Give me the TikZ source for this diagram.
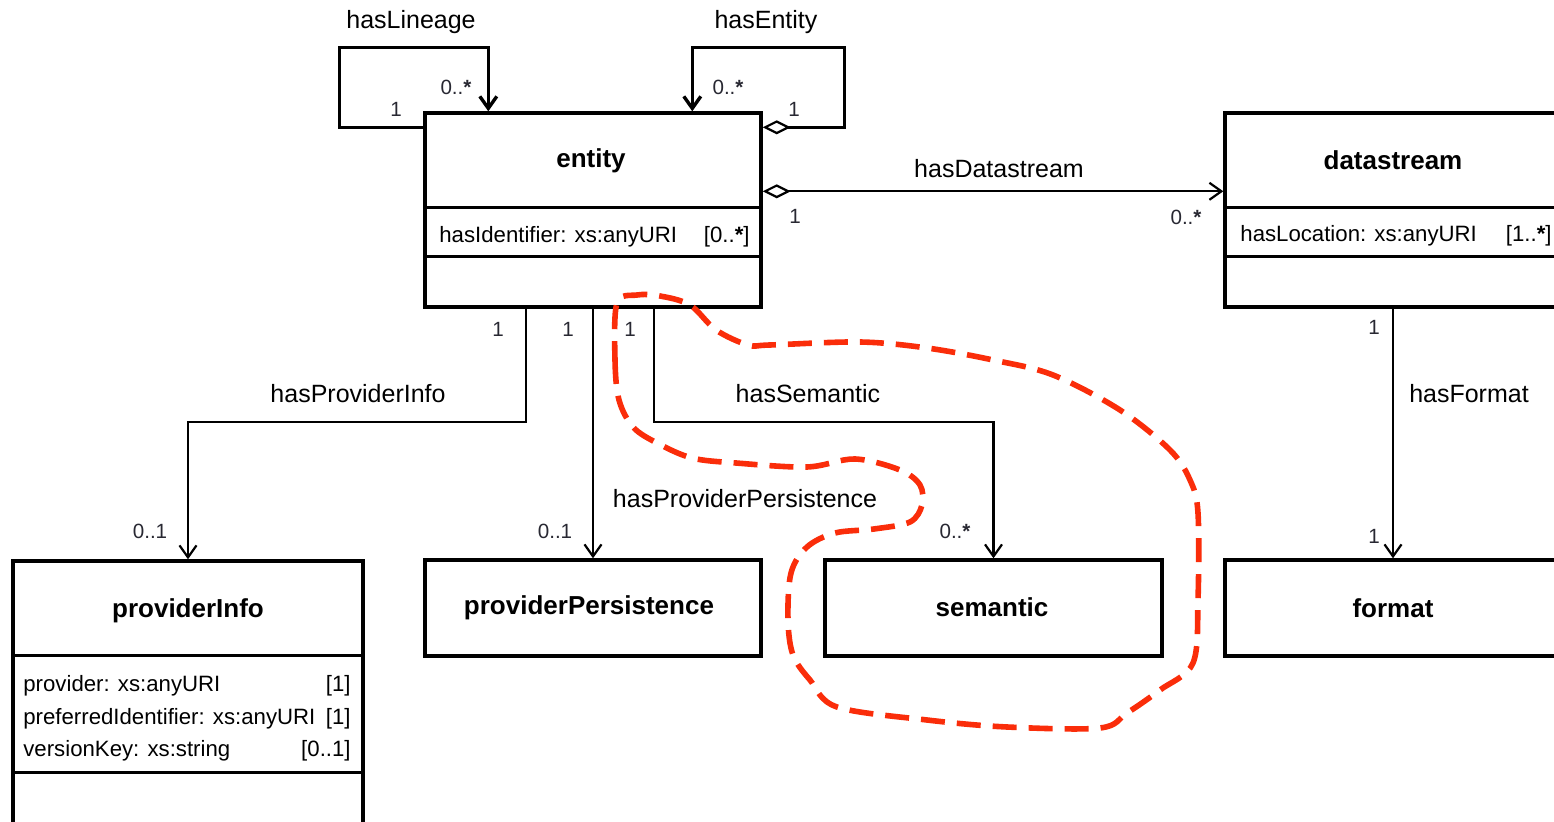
\documentclass[tikz,border=0pt]{standalone}
\usepackage{fontspec}
\setmainfont{Liberation Sans}
\usetikzlibrary{arrows.meta,calc}
\definecolor{redmark}{RGB}{250,45,10}
\definecolor{multc}{RGB}{40,40,50}
\begin{document}
\begin{tikzpicture}[x=0.5pt,y=-0.5pt,
  cls/.style={draw, line width=1.7pt, rectangle, inner sep=0pt, fill=white},
  sep/.style={line width=1.4pt},
  ttl/.style={font=\fontsize{13}{15}\selectfont\bfseries, anchor=base, inner sep=0pt},
  lbl/.style={font=\fontsize{12.5}{14}\selectfont, anchor=base, inner sep=0pt},
  mul/.style={font=\fontsize{10.3}{12}\selectfont, text=multc, anchor=base, inner sep=0pt},
  attr/.style={font=\fontsize{11.1}{12}\selectfont, anchor=base west, inner sep=0pt},
  attrr/.style={font=\fontsize{11.1}{12}\selectfont, anchor=base east, inner sep=0pt},
  conn/.style={line width=1.1pt, -{Straight Barb[length=6pt,width=8.5pt]}},
  loopc/.style={line width=1.7pt, -{Straight Barb[length=6pt,width=8.5pt]}},
  aggc/.style={line width=1.1pt, {Diamond[fill=white,length=14pt,width=7pt]}-{Straight Barb[length=6pt,width=8.5pt]}},
  aggl/.style={line width=1.7pt, {Diamond[fill=white,length=14pt,width=7pt,line width=1.1pt]}-{Straight Barb[length=6pt,width=8.5pt]}},
  redline/.style={draw=redmark, line width=2.8pt, dash pattern=on 12pt off 6pt}
]
\useasboundingbox (0,0) rectangle (1554,822);
\clip (0,0) rectangle (1554,822);

% class boxes
\node[cls, minimum width=168pt, minimum height=97pt] (entity) at (593,210) {};
\node[cls, minimum width=168pt, minimum height=97pt] (datastream) at (1393,210) {};
\node[cls, minimum width=175pt, minimum height=131.5pt] (providerInfo) at (188,692.5) {};
\node[cls, minimum width=168pt, minimum height=48pt] (providerPersistence) at (593,608) {};
\node[cls, minimum width=168.5pt, minimum height=48pt] (semantic) at (993.5,608) {};
\node[cls, minimum width=168pt, minimum height=48pt] (format) at (1393,608) {};

% compartments
\draw[sep] ($(entity.north west)+(0,96)$) -- ($(entity.north east)+(0,96)$);
\draw[sep] ($(entity.north west)+(0,145)$) -- ($(entity.north east)+(0,145)$);
\draw[sep] ($(datastream.north west)+(0,96)$) -- ($(datastream.north east)+(0,96)$);
\draw[sep] ($(datastream.north west)+(0,145)$) -- ($(datastream.north east)+(0,145)$);
\draw[sep] ($(providerInfo.north west)+(0,96)$) -- ($(providerInfo.north east)+(0,96)$);
\draw[sep] ($(providerInfo.north west)+(0,213)$) -- ($(providerInfo.north east)+(0,213)$);

% titles
\node[ttl] (entityT) at (591,168) {entity};
\node[ttl] (datastreamT) at (1393,170) {datastream};
\node[ttl] (providerInfoT) at (188,618) {providerInfo};
\node[ttl] (providerPersistenceT) at (589,615) {providerPersistence};
\node[ttl] (semanticT) at (992,617) {semantic};
\node[ttl] (formatT) at (1393,618) {format};

% attributes
\node[attr] (a1) at (439,243) {hasIdentifier: xs:anyURI};
\node[attrr] (a1m) at (750,243) {[0..\textbf{*}]};
\node[attr] (a2) at (1240,242) {hasLocation: xs:anyURI};
\node[attrr] (a2m) at (1552,242) {[1..\textbf{*}]};
\node[attr] (a3) at (23,692) {provider: xs:anyURI};
\node[attrr] (a3m) at (351,692) {[1]};
\node[attr] (a4) at (23,725) {preferredIdentifier: xs:anyURI};
\node[attrr] (a4m) at (351,725) {[1]};
\node[attr] (a5) at (23,757) {versionKey: xs:string};
\node[attrr] (a5m) at (351,757) {[0..1]};

% hasLineage loop
\draw[loopc] ($(entity.north west)+(0,16)$) -- ++(-84,0) -- ++(0,-80)
  -- ($(entity.north west)+(65,-64)$) -- ($(entity.north west)+(65,0)$);
% hasEntity loop
\draw[aggl] ($(entity.north east)+(0,16)$) -- ++(82,0) -- ++(0,-80)
  -- ($(entity.north west)+(269,-64)$) -- ($(entity.north west)+(269,0)$);
% hasDatastream
\draw[aggc] ($(entity.north east)+(0,80)$) -- ($(datastream.north west)+(0,80)$);
% hasFormat
\draw[conn] (datastream.south) -- (format.north);
% hasProviderInfo
\draw[conn] ($(entity.south west)+(103,0)$) -- ++(0,113) -| (providerInfo.north);
% hasProviderPersistence
\draw[conn] (entity.south) -- (providerPersistence.north);
% hasSemantic
\draw[conn] ($(entity.south west)+(231,0)$) -- ++(0,113) -| (semantic.north);

% association labels
\node[lbl] (lLin) at (411,29) {hasLineage};
\node[lbl] (lEnt) at (766,29) {hasEntity};
\node[lbl] (lDs) at (999,178) {hasDatastream};
\node[lbl] (lPI) at (358,403) {hasProviderInfo};
\node[lbl] (lSem) at (808,403) {hasSemantic};
\node[lbl] (lPP) at (745,508) {hasProviderPersistence};
\node[lbl] (lFmt) at (1469,403) {hasFormat};

% multiplicities
\node[mul] (m1) at (396,117) {1};
\node[mul] (m2) at (456,95) {0..\textbf{*}};
\node[mul] (m3) at (728,95) {0..\textbf{*}};
\node[mul] (m4) at (794,117) {1};
\node[mul] (m5) at (795,224) {1};
\node[mul] (m6) at (1186,225) {0..\textbf{*}};
\node[mul] (m7) at (498,337) {1};
\node[mul] (m8) at (568,337) {1};
\node[mul] (m9) at (630,337) {1};
\node[mul] (m10) at (150,539) {0..1};
\node[mul] (m11) at (555,539) {0..1};
\node[mul] (m12) at (955,539) {0..\textbf{*}};
\node[mul] (m13) at (1374,335) {1};
\node[mul] (m14) at (1374,544) {1};

% red hand-drawn mark
\draw[redline] plot[smooth cycle, tension=0.55] coordinates {
 (617,303) (615,360) (619,400) (633,427) (657,443) (692,458) (736,463)
 (807,467) (855,459) (900,470) (920,485) (922,505) (910,522) (874,529)
 (835,533) (807,547) (791,573) (788,620) (793,655) (810,680) (837,707)
 (927,720) (1007,727) (1100,728) (1127,713) (1160,690) (1193,663) (1198,600)
 (1198,513) (1190,480) (1170,450) (1120,410) (1053,375) (993,360) (927,348)
 (860,342) (770,345) (748,345) (716,330) (690,305) (660,296) (637,295)};
\end{tikzpicture}
\end{document}
